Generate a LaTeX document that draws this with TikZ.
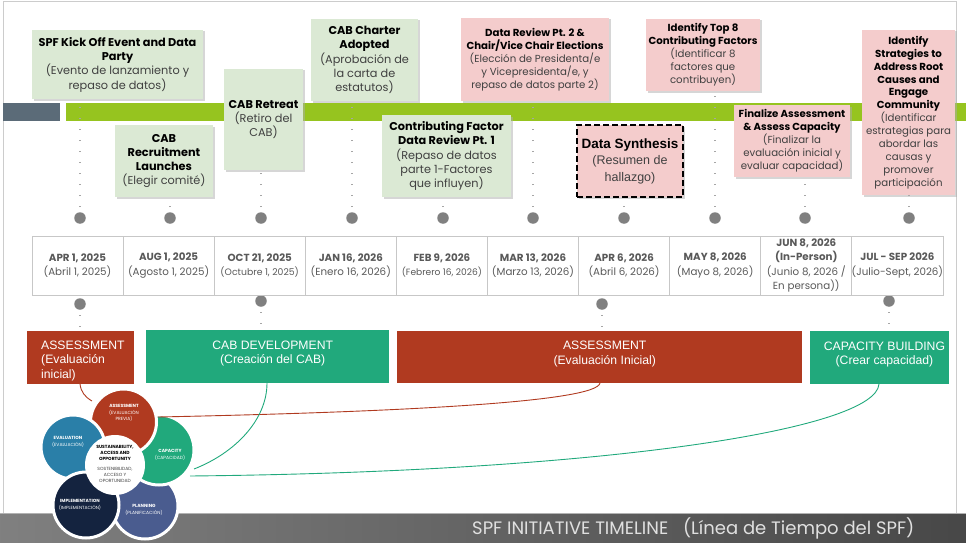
\documentclass[tikz,border=0pt]{standalone}
\usepackage{fontspec}
\setmainfont{Poppins}
\newfontfamily\arialfont{Liberation Sans}
\usetikzlibrary{shadows,backgrounds}

\definecolor{boxgreen}{HTML}{DBE9D4}
\definecolor{boxpink}{HTML}{F4CCCC}
\definecolor{bandgreen}{HTML}{96C41F}
\definecolor{bandslate}{HTML}{5B6B78}
\definecolor{barred}{HTML}{B03A20}
\definecolor{bargreen}{HTML}{21A97C}
\definecolor{petalteal}{HTML}{2A7FA8}
\definecolor{petalnavy}{HTML}{14233F}
\definecolor{petalblue}{HTML}{4A5C8F}
\definecolor{subtext}{HTML}{404040}

\tikzset{
  event/.style={minimum width=#1, inner sep=0pt, align=center, text=subtext, font=\fontsize{11.3}{14.3}\selectfont,
    execute at begin node={\rule{0pt}{12pt}},
    drop shadow={shadow xshift=1.5pt, shadow yshift=-1.5pt, fill=black!32}},
  smallevent/.style={font=\fontsize{10.2}{12.9}\selectfont},
  datecell/.style={draw=black!22, line width=0.9pt, minimum width=91.1pt, minimum height=59pt, inner sep=0pt, align=center,
    text=black!65, font=\fontsize{10.3}{14.6}\selectfont, execute at begin node={\rule{0pt}{11.5pt}}},
  dot/.style={circle, fill=black!50, inner sep=0pt, minimum size=11.5pt},
  dotline/.style={black!35, line width=1.4pt, dash pattern=on 1.4pt off 9.6pt},
  bar/.style={minimum height=#1, inner sep=0pt, text=white, align=center, font=\arialfont\fontsize{12.2}{14.5}\selectfont},
  petal/.style={circle, draw=white, line width=3pt, inner sep=0pt, minimum size=#1},
  petaltext/.style={text=white, align=center, inner sep=0pt, font=\fontsize{4.5}{6.4}\selectfont},
  link/.style={line width=0.9pt}
}
\newcommand{\hd}[1]{\textbf{\textcolor{black}{#1}}}
\newcommand{\barline}[1]{\hspace*{10pt}#1}
\newcommand{\liftup}{\rule[-9pt]{0pt}{0pt}}

\begin{document}
\begin{tikzpicture}[x=1pt,y=-1pt]
\useasboundingbox (0,0) rectangle (966,543);

\node [dot] (d0) at (80,218) {};
\node [dot] (d1) at (170,218) {};
\node [dot] (d2) at (261,218) {};
\node [dot] (d3) at (352,218) {};
\node [dot] (d4) at (443,218) {};
\node [dot] (d5) at (533,218) {};
\node [dot] (d6) at (624,218) {};
\node [dot] (d7) at (715,218) {};
\node [dot] (d8) at (805,218) {};
\node [dot] (d9) at (909,218) {};

\node [dot] (e0) at (80,304) {};
\node [dot] (e1) at (261,301) {};
\node [dot] (e2) at (602,304) {};
\node [dot] (e3) at (889,301) {};

\node [event=171pt, fill=boxgreen, minimum height=69pt] (k0) at (117.5,64.5)
  {\hd{SPF Kick Off Event and Data}\\\hd{Party}\\(Evento de lanzamiento y\\repaso de datos)};
\node [event=98pt, fill=boxgreen, minimum height=72pt] (k1) at (164,161)
  {\hd{CAB}\\\hd{Recruitment}\\\hd{Launches}\\(Elegir comité)};
\node [event=79pt, fill=boxgreen, minimum height=101pt] (k2) at (263.5,119.5)
  {\hd{CAB Retreat}\\(Retiro del\\CAB)};
\node [event=107pt, fill=boxgreen, minimum height=82pt] (k3) at (364.5,60)
  {\hd{CAB Charter}\\\hd{Adopted}\\(Aprobación de\\la carta de\\estatutos)};
\node [event=129pt, fill=boxgreen, minimum height=82pt] (k4) at (446.5,156)
  {\hd{Contributing Factor}\\\hd{Data Review Pt. 1}\\(Repaso de datos\\parte 1-Factores\\que influyen)};
\node [event=148pt, fill=boxpink, minimum height=83pt, smallevent] (k5) at (535,59.5)
  {\hd{Data Review Pt. 2 \&}\\\hd{Chair/Vice Chair Elections}\\(Elección de Presidenta/e\\y Vicepresidenta/e, y\\repaso de datos parte 2)};
\node [event=106pt, fill=boxpink, minimum height=72pt, draw=black, line width=1.3pt, dash pattern=on 6pt off 3pt,
  font=\arialfont\fontsize{12.5}{16.5}\selectfont] (k6) at (630,161)
  {\textbf{\textcolor{black}{\fontsize{13.5}{16.5}\selectfont Data Synthesis}}\\(Resumen de\\hallazgo)};
\node [event=114pt, fill=boxpink, minimum height=72pt, smallevent] (k7) at (703,55)
  {\hd{Identify Top 8}\\\hd{Contributing Factors}\\(Identificar 8\\factores que\\contribuyen)};
\node [event=116pt, fill=boxpink, minimum height=72pt, smallevent] (k8) at (792,141)
  {\hd{Finalize Assessment}\\\hd{\& Assess Capacity}\\(Finalizar la\\evaluación inicial y\\evaluar capacidad)};
\node [event=93pt, fill=boxpink, minimum height=165pt, smallevent] (k9) at (908.5,112.5)
  {\hd{Identify}\\\hd{Strategies to}\\\hd{Address Root}\\\hd{Causes and}\\\hd{Engage}\\\hd{Community}\\(Identificar\\estrategias para\\abordar las\\causas y\\promover\\participación};

\node [datecell] (c0) at (77.5,265.5) {\textbf{APR 1, 2025}\\(Abril 1, 2025)};
\node [datecell] (c1) at (168.6,265.5) {\textbf{AUG 1, 2025}\\(Agosto 1, 2025)};
\node [datecell, font=\fontsize{9.3}{14.6}\selectfont] (c2) at (259.7,265.5) {\textbf{\fontsize{10.3}{14.6}\selectfont OCT 21, 2025}\\(Octubre 1, 2025)};
\node [datecell] (c3) at (350.8,265.5) {\textbf{JAN 16, 2026}\\(Enero 16, 2026)};
\node [datecell, font=\fontsize{9.1}{14.6}\selectfont] (c4) at (441.9,265.5) {\textbf{\fontsize{10.3}{14.6}\selectfont FEB 9, 2026}\\(Febrero 16, 2026)};
\node [datecell] (c5) at (533,265.5) {\textbf{MAR 13, 2026}\\(Marzo 13, 2026)};
\node [datecell] (c6) at (624.1,265.5) {\textbf{APR 6, 2026}\\(Abril 6, 2026)};
\node [datecell] (c7) at (715.2,265.5) {\textbf{MAY 8, 2026}\\(Mayo 8, 2026)};
\node [datecell] (c8) at (806.3,265.5) {\textbf{JUN 8, 2026}\\\textbf{(In-Person)}\\(Junio 8, 2026 /\\En persona))};
\node [datecell] (c9) at (897.4,265.5) {\textbf{JUL - SEP 2026}\\(Julio-Sept, 2026)};

\node [bar=53pt, fill=barred, anchor=north west, align=left, text width=107pt] (a0) at (27,331)
  {\rule{0pt}{15pt}\hspace*{14pt}ASSESSMENT\\\hspace*{14pt}(Evaluación\\\hspace*{14pt}inicial)};
\node [bar=53pt, fill=bargreen, minimum width=243pt, anchor=north west] (a1) at (146,330)
  {\barline{CAB DEVELOPMENT}\\\barline{(Creación del CAB)}\liftup};
\node [bar=52pt, fill=barred, minimum width=405pt, anchor=north west] (a2) at (397,331)
  {\barline{ASSESSMENT}\\\barline{(Evaluación Inicial)}\liftup};
\node [bar=53pt, fill=bargreen, minimum width=138.5pt, anchor=north west] (a3) at (810,331)
  {\barline{CAPACITY BUILDING}\\\barline{(Crear capacidad)}\liftup};

\begin{scope}[on background layer]
\draw [black!20, line width=1pt] (3,513) -- (3,2) -- (956,2) -- (956,513);
\fill [bandslate] (3,103) rectangle (60,121);
\fill [bandgreen] (66,103) rectangle (966,121);

\foreach \i in {0,...,9}
    \draw [dotline] (d\i.center) -- (d\i |- k\i.south);
\draw [dotline] (e0.center) -- (e0 |- a0.north);
\draw [dotline] (e1.center) -- (e1 |- a1.north);
\draw [dotline] (e2.center) -- (e2 |- a2.north);
\draw [dotline] (e3.center) -- (e3 |- a3.north);
\end{scope}

\node [left color=black!50, right color=black!72, minimum width=966pt, minimum height=30pt, inner sep=0pt, anchor=north west] (foot) at (0,513) {};
\draw [black!30, line width=0.8pt] (foot.north west) -- (foot.north east);
\node [anchor=west, inner sep=0pt, text=black!12, font=\fontsize{18}{20}\selectfont] (title) at (472,528)
  {SPF INITIATIVE TIMELINE\hspace{10pt} (Línea de Tiempo del SPF)};

\node [petal=66pt, fill=petalblue] (p2) at (145,506) {};
\node [petal=70pt, fill=bargreen] (p1) at (159,450) {};
\node [petal=66pt, fill=barred] (p0) at (123.5,422) {};
\node [petal=64pt, fill=petalteal] (p4) at (73,447) {};
\node [petal=66pt, fill=petalnavy] (p3) at (86,505) {};
\node [circle, fill=white, inner sep=0pt, minimum size=60pt] (p5) at (115,465) {};

\node [petaltext] (t0) at (124,413) {\textbf{ASSESSMENT}\\(EVALUACIÓN\\PREVIA)};
\node [petaltext] (t1) at (170,455) {\textbf{CAPACITY}\\(CAPACIDAD)};
\node [petaltext] (t2) at (144,510) {\textbf{PLANNING}\\(PLANIFICACIÓN)};
\node [petaltext] (t3) at (80,505) {\textbf{IMPLEMENTATION}\\(IMPLEMENTACIÓN)};
\node [petaltext] (t4) at (68,442) {\textbf{EVALUATION}\\(EVALUACIÓN)};
\node [petaltext, text=black] (t5) at (115,453) {\textbf{SUSTAINABILITY,}\\\textbf{ACCESS AND}\\\textbf{OPPORTUNITY}};
\node [petaltext, text=subtext] (t6) at (115,475) {SOSTENIBILIDAD,\\ACCESO Y\\OPORTUNIDAD};

\coordinate (l0) at (80,384);
\coordinate (l1) at (92,401);
\coordinate (l2) at (600,383);
\coordinate (l3) at (158,417);
\coordinate (l4) at (267,383);
\coordinate (l5) at (194,469);
\coordinate (l6) at (879,384);
\coordinate (l7) at (190,476);

\draw [link, barred] (l0) .. controls (81,392) and (85,397) .. (l1);
\draw [link, barred] (l2) .. controls (597,402) and (400,412) .. (l3);
\draw [link, bargreen] (l4) .. controls (267,420) and (235,453) .. (l5);
\draw [link, bargreen] (l6) .. controls (876,430) and (600,472) .. (l7);

\end{tikzpicture}
\end{document}
